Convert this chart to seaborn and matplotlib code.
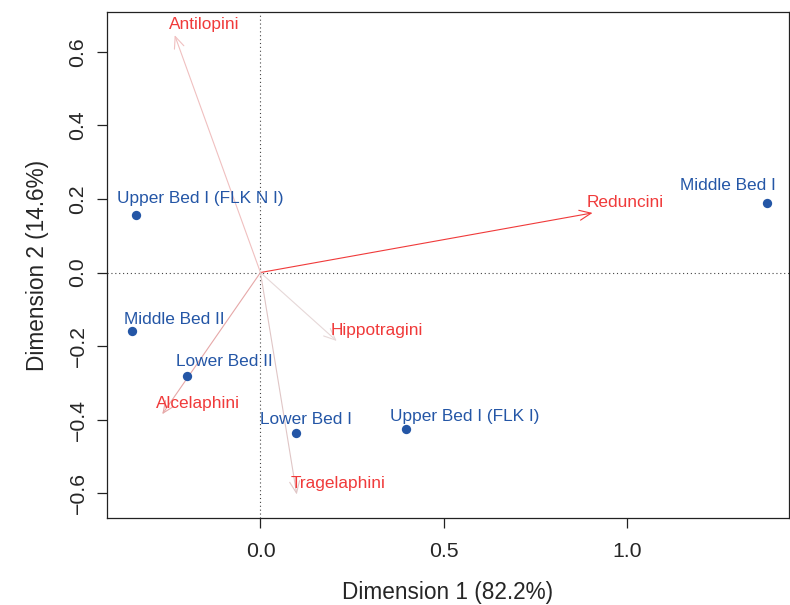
import numpy as np
import pandas as pd
import matplotlib
matplotlib.use("Agg")
import matplotlib.pyplot as plt
import seaborn as sns

# sites (row coordinates)
sites = ["Middle Bed I", "Upper Bed I (FLK N I)", "Middle Bed II",
         "Lower Bed II", "Lower Bed I", "Upper Bed I (FLK I)"]
site_dim1 = [1.381, -0.340, -0.351, -0.200, 0.096, 0.396]
site_dim2 = [0.188, 0.156, -0.159, -0.282, -0.436, -0.426]

# tribes (column coordinates, drawn as arrows)
tribes = ["Antilopini", "Reduncini", "Hippotragini", "Alcelaphini", "Tragelaphini"]
tribe_dim1 = [-0.234, 0.906, 0.208, -0.268, 0.099]
tribe_dim2 = [0.645, 0.162, -0.186, -0.385, -0.603]

xticks = [0.0, 0.5, 1.0]
yticks = [-0.6, -0.4, -0.2, 0.0, 0.2, 0.4, 0.6]

# styling / label placement (pixels)
arrow_colors = ["#F0C0C0", "#F03A3A", "#E6D8D8", "#E6A8A8", "#E0C6C6"]
site_label_offsets = [(-39, 18), (64, 17), (42, 12), (37, 15), (10, 13), (59, 13)]
BLUE = "#2456A6"
RED = "#F03A3A"

sns.set_style("ticks")
plt.rcParams["font.family"] = ["Liberation Sans", "DejaVu Sans"]

fig = plt.figure(figsize=(7.9, 6.05), dpi=100)
ax = fig.add_axes([0.1354, 0.1438, 0.8633, 0.8364])

ax.axhline(0, color="#444444", lw=0.8, ls=(0, (1, 2.5)), zorder=1)
ax.axvline(0, color="#444444", lw=0.8, ls=(0, (1, 2.5)), zorder=1)

for name, x, y, c in zip(tribes, tribe_dim1, tribe_dim2, arrow_colors):
    ax.annotate("", xy=(x, y), xytext=(0, 0),
                arrowprops=dict(arrowstyle="->,head_length=0.7,head_width=0.3",
                                color=c, lw=0.8, shrinkA=0, shrinkB=0,
                                mutation_scale=12),
                zorder=2)
    ax.annotate(name, xy=(x, y), xytext=(-6, 10.5), textcoords="offset pixels",
                ha="left", va="center", color=RED, fontsize=12.4, zorder=4)

df = pd.DataFrame({"Dim1": site_dim1, "Dim2": site_dim2, "site": sites})
sns.scatterplot(data=df, x="Dim1", y="Dim2", ax=ax, color=BLUE, s=45,
                linewidth=0, zorder=3, legend=False)

for name, x, y, (dx, dy) in zip(sites, site_dim1, site_dim2, site_label_offsets):
    ax.annotate(name, xy=(x, y), xytext=(dx, dy), textcoords="offset pixels",
                ha="center", va="center", color=BLUE, fontsize=12.4, zorder=4)

ax.set_xlim(-0.4188, 1.442)
ax.set_ylim(-0.667, 0.708)
ax.set_xticks(xticks)
ax.set_xticklabels([f"{v:.1f}" for v in xticks])
ax.set_yticks(yticks)
ax.set_yticklabels([f"{v:.1f}".replace("-", "\u2212") for v in yticks],
                   rotation=90, va="center")
ax.tick_params(axis="both", direction="out", length=7, width=0.9,
               labelsize=15.3, pad=7, color="#222222")
ax.tick_params(axis="x", pad=10)
for sp in ax.spines.values():
    sp.set_linewidth(0.9)
    sp.set_color("#222222")

ax.set_xlabel("Dimension 1 (82.2%)", fontsize=16.3, labelpad=15)
ax.set_ylabel("Dimension 2 (14.6%)", fontsize=16.3, labelpad=14)

fig.savefig("out.png", dpi=100)
plt.close(fig)
